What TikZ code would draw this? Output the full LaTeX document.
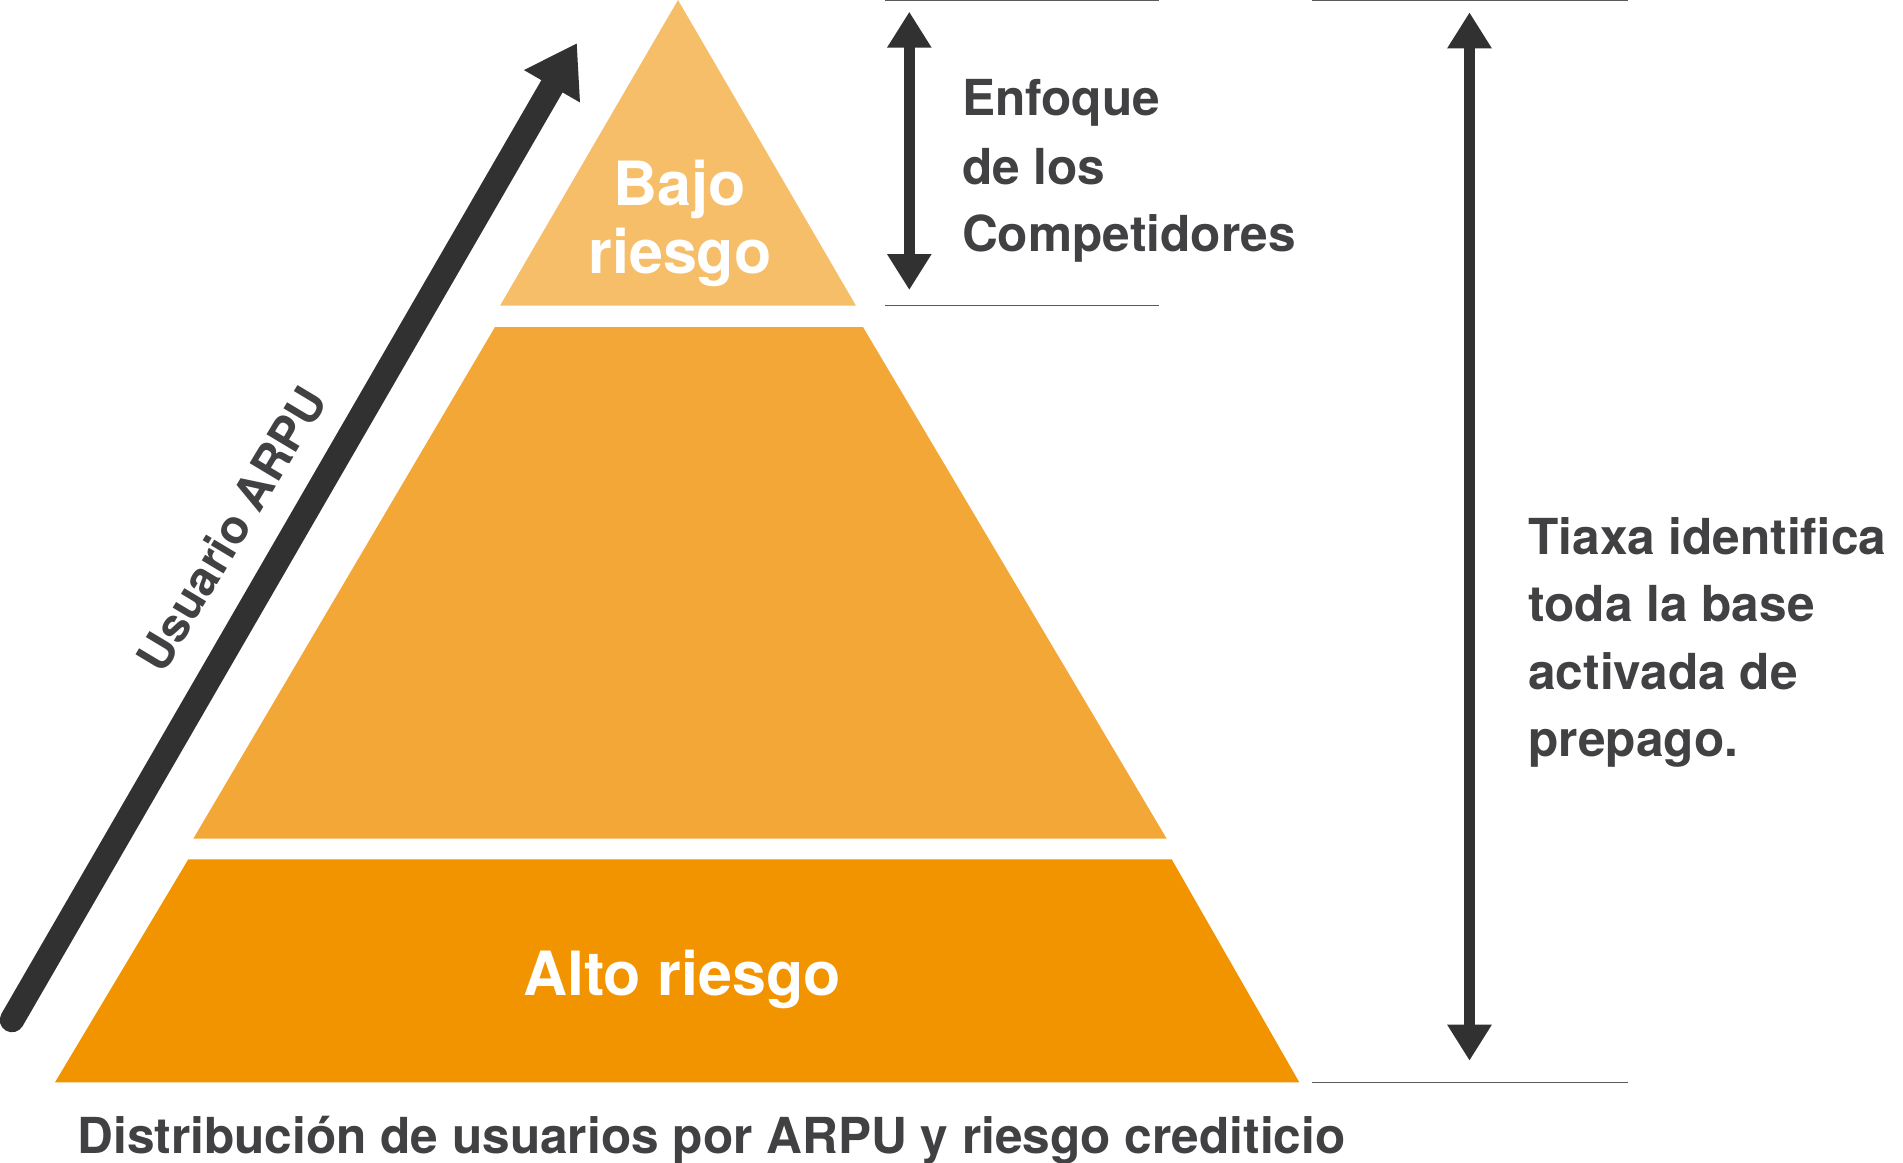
\documentclass[tikz,border=0pt]{standalone}
\usepackage{fontspec}
\setmainfont{TeX Gyre Heros}
\usetikzlibrary{arrows.meta}
\definecolor{tierTop}{HTML}{F6BE69}
\definecolor{tierMid}{HTML}{F3A736}
\definecolor{tierLow}{HTML}{F29400}
\definecolor{textgray}{HTML}{414042}
\definecolor{arrowgray}{HTML}{313131}
\definecolor{linegray}{HTML}{5A5A5A}
\tikzset{
  darktext/.style={text=textgray, font=\bfseries\fontsize{24.8}{30}\selectfont, inner sep=0pt, anchor=base west},
  whitetext/.style={text=white, font=\bfseries\fontsize{30.5}{36}\selectfont, inner sep=0pt, anchor=base},
  guide/.style={draw=linegray, line width=0.65pt},
  dimarrow/.style={draw=arrowgray, line width=5.5pt, {Triangle[width=21pt,length=18pt]}-{Triangle[width=21pt,length=18pt]}},
  bigarrow/.style={draw=arrowgray, line width=12.25pt, line cap=round, -{Triangle[width=30.5pt,length=25pt]}}
}
\begin{document}
\begin{tikzpicture}[x=0.5pt,y=-0.5pt]
\useasboundingbox (0,0) rectangle (1903,1163);
% pyramid tiers
\fill[tierTop] (678,0) -- (856,305.7) -- (500,305.7) -- cycle;
\fill[tierMid] (495,327) -- (863,327) -- (1166.7,838.7) -- (193.3,838.7) -- cycle;
\fill[tierLow] (188.3,859.3) -- (1171.7,859.3) -- (1299.3,1082.3) -- (55,1082.3) -- cycle;
% tier labels
\node[whitetext] (bajo) at (680,205) {Bajo};
\node[whitetext] (riesgoA) at (680,273.3) {riesgo};
\node[whitetext] (alto) at (682,995) {Alto riesgo};
% guide lines
\coordinate (g1a) at (885,0.8);   \coordinate (g1b) at (1159,0.8);
\coordinate (g2a) at (885,305.3); \coordinate (g2b) at (1159,305.3);
\coordinate (g3a) at (1311.7,0.8); \coordinate (g3b) at (1628,0.8);
\coordinate (g4a) at (1311.7,1082.3); \coordinate (g4b) at (1628,1082.3);
\draw[guide] (g1a) -- (g1b);
\draw[guide] (g2a) -- (g2b);
\draw[guide] (g3a) -- (g3b);
\draw[guide] (g4a) -- (g4b);
% dimension arrows
\coordinate (d1top) at (909.3,11.7); \coordinate (d1bot) at (909.3,290);
\coordinate (d2top) at (1469.5,12.3); \coordinate (d2bot) at (1469.5,1060.7);
\draw[dimarrow] (d1top) -- (d1bot);
\draw[dimarrow] (d2top) -- (d2bot);
% side texts
\node[darktext] (e1) at (961.7,115) {Enfoque};
\node[darktext] (e2) at (961.7,184.3) {de los};
\node[darktext] (e3) at (961.7,251.7) {Competidores};
\node[darktext] (t1) at (1528,554) {Tiaxa identifica};
\node[darktext] (t2) at (1528,621.7) {toda la base};
\node[darktext] (t3) at (1528,689.3) {activada de};
\node[darktext] (t4) at (1528,756.7) {prepago.};
% ARPU arrow
\coordinate (arpuStart) at (12,1020);
\coordinate (arpuTip) at (577,43);
\draw[bigarrow] (arpuStart) -- (arpuTip);
\node[text=textgray, font=\bfseries\fontsize{23.5}{28}\selectfont, inner sep=0pt, rotate=59] (arpu) at (231,528.7) {Usuario ARPU};
% caption
\node[darktext] (caption) at (77,1153) {Distribución de usuarios por ARPU y riesgo crediticio};
\end{tikzpicture}
\end{document}
